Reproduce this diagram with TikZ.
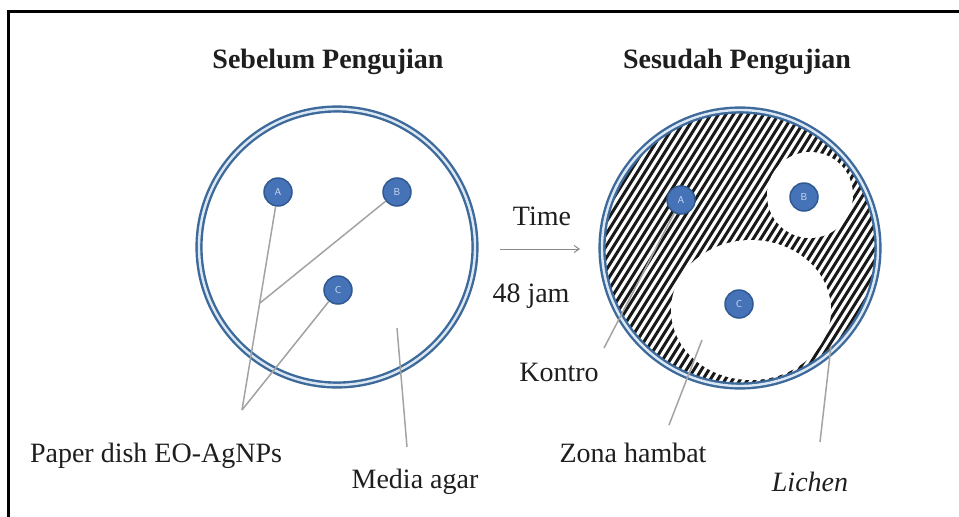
\documentclass[tikz,border=0pt]{standalone}
\usepackage{fontspec}
\setmainfont{Liberation Serif}
\usetikzlibrary{arrows.meta}

\definecolor{ringdark}{HTML}{3D6A9A}
\definecolor{ringlight}{HTML}{DCE7F4}
\definecolor{discfill}{HTML}{4673B8}
\definecolor{discedge}{HTML}{2F5A91}
\definecolor{discletter}{HTML}{D2E0F4}
\definecolor{leadgray}{HTML}{A3A3A3}
\definecolor{arrowgray}{HTML}{8A8A8A}
\definecolor{ink}{HTML}{1E1E1E}

\begin{document}
\begin{tikzpicture}[x=1pt,y=-1pt,
  petri/.style={circle, minimum size=276pt, inner sep=0pt, draw=ringdark,
    line width=2.4pt, double=ringlight, double distance=2.4pt},
  disc/.style={circle, minimum size=28pt, inner sep=0pt, fill=discfill,
    draw=discedge, line width=1.5pt, text=discletter,
    font=\sffamily\fontsize{10}{10}\selectfont},
  headtext/.style={font=\bfseries\fontsize{28}{30}\selectfont, text=ink, inner sep=0pt},
  caption/.style={font=\fontsize{28}{30}\selectfont, text=ink, inner sep=0pt},
  leader/.style={draw=leadgray, line width=1.5pt},
  hatch/.style={draw=black!90, line width=3pt},
  frame/.style={draw=black, line width=3pt, line join=miter}]

\useasboundingbox (0,0) rectangle (959,517);

% open frame: top and left edges only
\draw[frame] (8,517) -- (8,11) -- (959,11);

% headings
\node[headtext] (t1) at (328,62) {Sebelum Pengujian};
\node[headtext] (t2) at (737,62) {Sesudah Pengujian};

% ---- plate before the test ----
\node[petri] (lp) at (337,247) {};
\node[disc] (lA) at (278,192) {A};
\node[disc] (lB) at (397,192) {B};
\node[disc] (lC) at (338,290) {C};

% ---- plate after the test: lichen growth hatched, clear zones in white ----
\begin{scope}
  \clip (740,248) circle[radius=135pt];
  \foreach \k in {-28,...,28}
    \draw[hatch] (740+\k*7.5-95,400) -- (740+\k*7.5+95,96);
  \fill[white] (810,195) circle[radius=43pt];
  \fill[white] (751,310) ellipse[x radius=80pt, y radius=70pt];
\end{scope}
\node[petri] (rp) at (740,248) {};
\node[disc] (rA) at (681,200) {A};
\node[disc] (rB) at (804,197) {B};
\node[disc] (rC) at (739,304) {C};

% time arrow
\coordinate (ar1) at (500,249);
\coordinate (ar2) at (580,249);
\draw[draw=arrowgray, line width=1pt, -{Straight Barb[length=5pt,width=7pt]}] (ar1) -- (ar2);
\node[caption] (time) at (542,216) {Time};
\node[caption] (jam) at (531,296) {48 jam};

% leader lines, left plate
\coordinate (pj) at (242,410);
\coordinate (pk) at (260,303);
\draw[leader] (lA) -- (pj);
\draw[leader] (lB) -- (pk);
\draw[leader] (lC) -- (pj);
\coordinate (ma1) at (397,328);
\coordinate (ma2) at (407,447);
\draw[leader] (ma1) -- (ma2);

% leader lines, right plate
\coordinate (ko) at (604,348);
\draw[leader] (rA) -- (ko);
\coordinate (za1) at (702,340);
\coordinate (za2) at (669,425);
\draw[leader] (za1) -- (za2);
\coordinate (li1) at (831,346);
\coordinate (li2) at (820,442);
\draw[leader] (li1) -- (li2);

% labels
\node[caption] (kon) at (559,372) {Kontro};
\node[caption] (pd) at (156,456) {Paper dish EO-AgNPs};
\node[caption] (ma) at (415,482) {Media agar};
\node[caption] (zh) at (633,453) {Zona hambat};
\node[caption, font=\itshape\fontsize{28}{30}\selectfont] (li) at (810,482) {Lichen};

\end{tikzpicture}
\end{document}
